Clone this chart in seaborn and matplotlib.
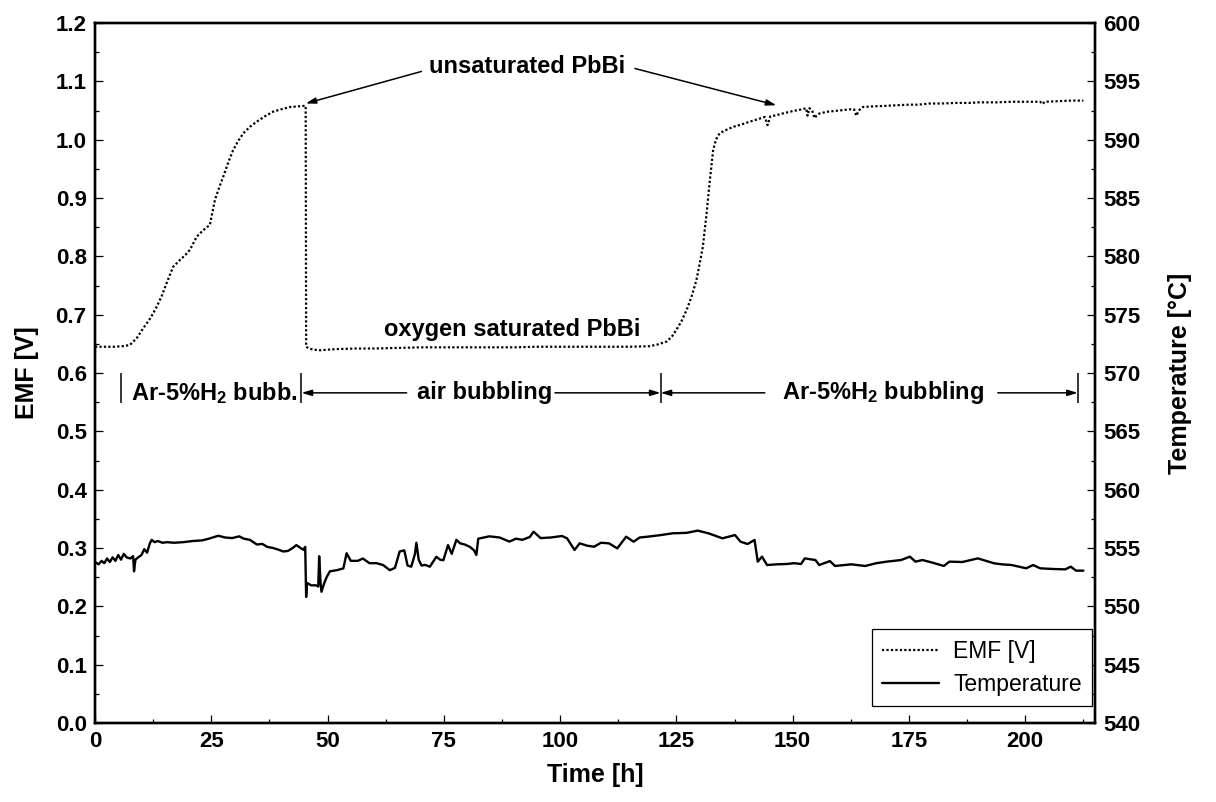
import matplotlib
matplotlib.use("Agg")
import matplotlib.pyplot as plt
import pandas as pd
import seaborn as sns
from matplotlib.ticker import MultipleLocator, FormatStrFormatter

# ---- EMF of the oxygen sensor [V] ----
emf_time = [
    0.0, 2.0, 4.0, 6.0, 7.5, 9.0, 10.4, 12.0, 13.3, 14.4,
    15.4, 16.8, 18.3, 19.4, 20.4, 21.9, 23.3, 24.7, 25.8, 26.7,
    27.6, 28.7, 29.7, 30.8, 31.9, 33.3, 34.8, 36.5, 38.3, 40.0,
    41.9, 43.5, 45.1, 45.3, 45.4, 46.0, 47.0, 48.4, 50.0, 52.0,
    56.0, 60.0, 65.0, 70.0, 75.0, 80.0, 85.0, 90.0, 95.0, 100.0,
    105.0, 110.0, 115.0, 119.3, 121.0, 122.9, 124.0, 125.0, 126.1, 127.2,
    128.3, 129.3, 130.0, 130.7, 131.5, 132.2, 132.9, 133.5, 134.3, 135.5,
    137.2, 139.0, 140.8, 142.5, 144.0, 144.6, 145.2, 146.5, 147.9, 150.0,
    152.0, 152.9, 153.2, 153.6, 154.2, 154.7, 155.2, 155.8, 157.5, 160.0,
    162.2, 163.2, 163.7, 164.2, 165.1, 167.0, 170.0, 172.2, 175.0, 177.0,
    179.4, 182.0, 185.0, 188.0, 190.0, 193.7, 197.0, 200.0, 203.2, 203.7,
    204.2, 207.0, 210.0, 212.5,
]
emf_volt = [
    0.645, 0.645, 0.645, 0.646, 0.648, 0.660, 0.677, 0.695, 0.714, 0.733,
    0.754, 0.782, 0.794, 0.802, 0.811, 0.834, 0.845, 0.854, 0.897, 0.918,
    0.937, 0.962, 0.982, 0.998, 1.011, 1.022, 1.031, 1.040, 1.048, 1.052,
    1.056, 1.057, 1.058, 1.058, 0.645, 0.642, 0.640, 0.639, 0.640, 0.641,
    0.642, 0.642, 0.643, 0.644, 0.644, 0.644, 0.644, 0.644, 0.645, 0.645,
    0.645, 0.645, 0.645, 0.646, 0.649, 0.654, 0.662, 0.674, 0.689, 0.708,
    0.732, 0.759, 0.787, 0.817, 0.874, 0.931, 0.982, 1.000, 1.011, 1.016,
    1.022, 1.026, 1.031, 1.035, 1.039, 1.025, 1.040, 1.042, 1.045, 1.049,
    1.052, 1.054, 1.041, 1.054, 1.050, 1.037, 1.042, 1.045, 1.048, 1.050,
    1.052, 1.052, 1.041, 1.050, 1.056, 1.057, 1.058, 1.059, 1.060, 1.060,
    1.062, 1.062, 1.063, 1.063, 1.064, 1.064, 1.065, 1.065, 1.065, 1.061,
    1.065, 1.066, 1.067, 1.067,
]

# ---- melt temperature [°C] ----
temp_time = [
    0.0, 0.8, 1.4, 2.0, 2.6, 3.2, 3.8, 4.4, 5.0, 5.6,
    6.2, 6.8, 7.6, 8.2, 8.4, 8.7, 9.3, 10.0, 10.6, 11.2,
    11.8, 12.2, 12.8, 13.5, 14.5, 15.5, 17.0, 19.0, 21.0, 23.0,
    24.5, 26.5, 28.0, 29.5, 31.0, 32.0, 33.3, 34.8, 36.0, 37.0,
    38.3, 39.5, 40.5, 41.5, 42.5, 43.3, 44.2, 44.8, 45.2, 45.4,
    45.6, 46.5, 47.5, 48.0, 48.2, 48.5, 48.7, 49.3, 49.8, 50.5,
    52.0, 53.4, 54.1, 55.0, 56.5, 57.6, 59.0, 60.5, 61.9, 63.4,
    64.5, 65.5, 66.5, 67.2, 68.0, 68.8, 69.1, 69.6, 70.2, 71.0,
    72.0, 73.4, 74.2, 74.9, 75.9, 76.7, 77.7, 78.5, 79.5, 80.6,
    81.5, 82.0, 82.4, 84.8, 87.0, 89.1, 90.5, 91.9, 93.5, 94.3,
    95.8, 98.0, 100.4, 101.5, 103.1, 104.2, 105.8, 107.3, 108.8, 110.5,
    112.3, 114.2, 115.8, 117.1, 118.8, 121.5, 124.2, 127.2, 129.6, 131.9,
    134.9, 137.6, 138.8, 140.3, 141.8, 142.5, 143.4, 144.5, 146.5, 148.7,
    150.3, 151.8, 152.6, 154.9, 155.7, 158.0, 159.1, 162.6, 165.6, 168.0,
    170.2, 173.3, 175.2, 176.4, 177.9, 180.0, 182.5, 183.7, 186.5, 189.8,
    193.3, 195.0, 197.1, 200.2, 201.7, 203.2, 206.0, 208.6, 209.8, 210.9,
    212.5,
]
temp_degc = [
    553.8, 553.6, 553.9, 553.7, 554.1, 553.8, 554.2, 553.9, 554.4, 554.0,
    554.5, 554.2, 554.1, 554.3, 553.0, 554.0, 554.2, 554.4, 554.9, 554.6,
    555.4, 555.7, 555.5, 555.6, 555.45, 555.5, 555.45, 555.5, 555.6, 555.65,
    555.8, 556.05, 555.9, 555.85, 556.0, 555.8, 555.7, 555.3, 555.35, 555.1,
    555.0, 554.85, 554.7, 554.75, 555.0, 555.25, 555.0, 554.85, 555.1, 550.8,
    552.0, 551.8, 551.8, 551.7, 554.3, 552.0, 551.25, 552.0, 552.5, 553.0,
    553.1, 553.25, 554.55, 553.9, 553.9, 554.1, 553.7, 553.7, 553.55, 553.1,
    553.3, 554.7, 554.8, 553.5, 553.4, 554.5, 555.45, 554.0, 553.5, 553.55,
    553.4, 554.25, 554.0, 553.95, 555.25, 554.5, 555.7, 555.4, 555.3, 555.1,
    554.8, 554.4, 555.8, 556.0, 555.9, 555.55, 555.8, 555.7, 555.95, 556.4,
    555.85, 555.9, 556.03, 555.83, 554.83, 555.4, 555.2, 555.11, 555.45, 555.4,
    554.97, 555.97, 555.54, 555.9, 555.97, 556.1, 556.26, 556.3, 556.49, 556.26,
    555.83, 556.11, 555.54, 555.34, 555.69, 553.83, 554.26, 553.54, 553.6, 553.63,
    553.7, 553.63, 554.11, 553.97, 553.54, 553.88, 553.46, 553.6, 553.46, 553.7,
    553.83, 553.97, 554.26, 553.83, 553.97, 553.75, 553.46, 553.83, 553.8, 554.11,
    553.69, 553.6, 553.54, 553.26, 553.54, 553.26, 553.2, 553.17, 553.4, 553.06,
    553.06,
]

# ---- axes ticks ----
time_ticks = [0, 25, 50, 75, 100, 125, 150, 175, 200]
emf_ticks = [0.0, 0.1, 0.2, 0.3, 0.4, 0.5, 0.6, 0.7, 0.8, 0.9, 1.0, 1.1, 1.2]
temp_ticks = [540, 545, 550, 555, 560, 565, 570, 575, 580, 585, 590, 595, 600]

# ---- gas-bubbling phases ----
phase_edges = [5.6, 44.4, 121.6, 211.3]
phase_labels = ["Ar-5%H$_2$ bubb.", "air bubbling", "Ar-5%H$_2$ bubbling"]

emf_df = pd.DataFrame({"time": emf_time, "emf": emf_volt})
temp_df = pd.DataFrame({"time": temp_time, "temp": temp_degc})

sns.set_theme(style="ticks")
plt.rcParams.update({
    "font.family": ["Liberation Sans", "DejaVu Sans"],
    "font.weight": "bold",
    "axes.labelweight": "bold",
    "mathtext.fontset": "custom",
    "mathtext.rm": "Liberation Sans:bold",
    "mathtext.it": "Liberation Sans:bold",
    "mathtext.bf": "Liberation Sans:bold",
    "axes.linewidth": 1.7,
    "axes.edgecolor": "black",
    "text.color": "black",
    "axes.labelcolor": "black",
    "xtick.color": "black",
    "ytick.color": "black",
})

fig = plt.figure(figsize=(12.16, 8.02), dpi=100)
ax = fig.add_axes([0.0781, 0.0985, 0.8224, 0.8728])
ax2 = ax.twinx()

sns.lineplot(data=emf_df, x="time", y="emf", ax=ax, color="black",
             linewidth=1.6, linestyle=(0, (1.0, 1.0)), sort=False,
             estimator=None, label="EMF [V]", legend=False)
sns.lineplot(data=temp_df, x="time", y="temp", ax=ax2, color="black",
             linewidth=1.7, sort=False, estimator=None,
             label="Temperature", legend=False)

ax.set_xlim(0, 215)
ax.set_ylim(0, 1.2)
ax2.set_ylim(540, 600)
ax.set_xticks(time_ticks)
ax.set_yticks(emf_ticks)
ax2.set_yticks(temp_ticks)
ax.xaxis.set_minor_locator(MultipleLocator(12.5))
ax.yaxis.set_minor_locator(MultipleLocator(0.05))
ax2.yaxis.set_minor_locator(MultipleLocator(2.5))
ax.yaxis.set_major_formatter(FormatStrFormatter("%.1f"))

for a in (ax, ax2):
    a.tick_params(which="major", direction="in", length=6, width=0.9,
                  labelsize=16, pad=6)
    a.tick_params(which="minor", direction="in", length=3, width=0.9)
ax.tick_params(which="both", top=False, right=False)
ax2.tick_params(which="both", left=False, right=True)
for lbl in ax.get_xticklabels() + ax.get_yticklabels() + ax2.get_yticklabels():
    lbl.set_fontweight("bold")

ax.set_xlabel("Time [h]", fontsize=18, fontweight="bold", labelpad=8)
ax.set_ylabel("EMF [V]", fontsize=18, fontweight="bold", labelpad=12)
ax2.set_ylabel("Temperature [°C]", fontsize=18, fontweight="bold", labelpad=20)

# state annotations
txt_kw = dict(fontsize=17, fontweight="bold", ha="center", va="center")
arrow_kw = dict(arrowstyle="-|>,head_length=0.6,head_width=0.18",
                color="black", lw=1.1, shrinkA=0, shrinkB=0,
                mutation_scale=10)

ax.text(92.8, 1.125, "unsaturated PbBi", **txt_kw)
ax.annotate("", xy=(45.3, 1.062), xytext=(70.2, 1.117), arrowprops=arrow_kw)
ax.annotate("", xy=(146.5, 1.059), xytext=(116.1, 1.122), arrowprops=arrow_kw)

ax.text(89.7, 0.674, "oxygen saturated PbBi", **txt_kw)

# phase bar with boundaries and arrows
y_bar = 0.566
ax.vlines(phase_edges, 0.549, 0.600, color="black", lw=1.1)
ax.text(25.6, y_bar, phase_labels[0], **txt_kw)
ax.text(83.8, y_bar, phase_labels[1], **txt_kw)
ax.text(169.4, y_bar, phase_labels[2], **txt_kw)
for start, end in [(67.0, phase_edges[1]), (98.9, phase_edges[2]),
                   (144.0, phase_edges[2]), (194.1, phase_edges[3])]:
    ax.annotate("", xy=(end, y_bar), xytext=(start, y_bar), arrowprops=arrow_kw)

handles = ax.get_lines()[:1] + ax2.get_lines()[:1]
leg = ax2.legend(handles, ["EMF [V]", "Temperature"], loc="lower right",
                 bbox_to_anchor=(0.997, 0.024), borderaxespad=0,
                 fancybox=False, frameon=True, edgecolor="black",
                 prop={"family": "Liberation Sans", "weight": "normal",
                       "size": 16.5},
                 handlelength=2.5, handletextpad=0.6, labelspacing=0.45,
                 borderpad=0.45)
leg.get_frame().set_linewidth(0.9)
leg.get_frame().set_alpha(1)

fig.savefig("out.png", dpi=100)
